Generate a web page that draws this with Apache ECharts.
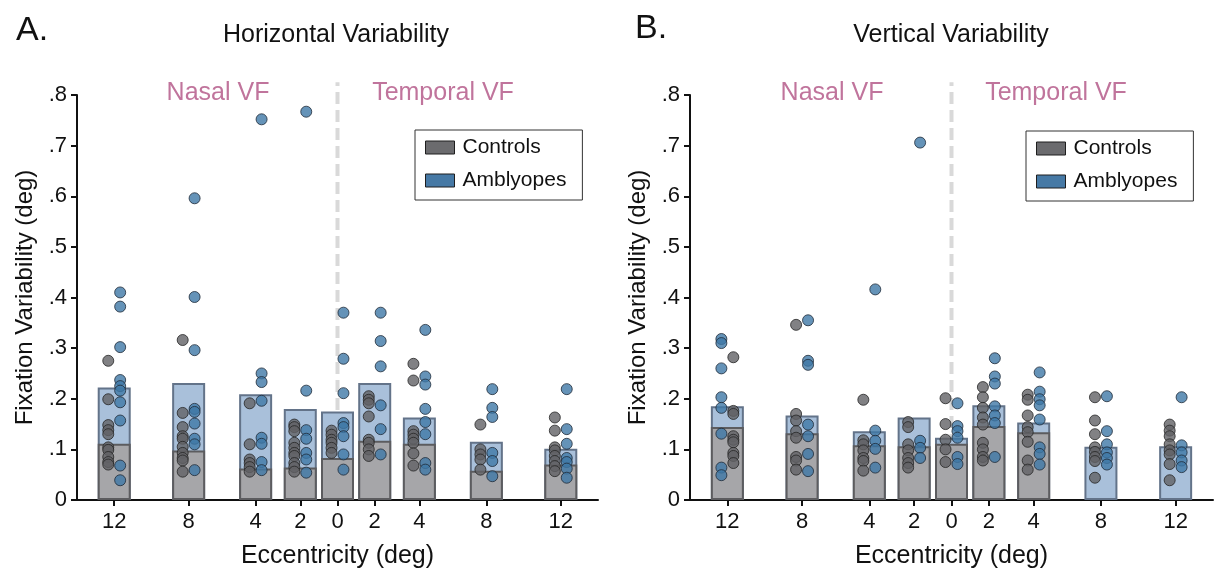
<!DOCTYPE html>
<html><head><meta charset="utf-8">
<script src="https://cdn.jsdelivr.net/npm/echarts@6/dist/echarts.min.js"></script>
<style>html,body{margin:0;padding:0;background:#fff}#c{width:1216px;height:574px}</style>
</head><body><div id="c"></div>
<script>
// ---------- data ----------
const eccLabels = ['12','8','4','2','0','2','4','8','12'];
const yTickLabels = ['0','.1','.2','.3','.4','.5','.6','.7','.8'];

// group means (bars)
const hCtrlMean = [0.111,0.098,0.062,0.064,0.083,0.117,0.111,0.058,0.070];
const hAmbMean  = [0.222,0.231,0.209,0.180,0.175,0.231,0.163,0.115,0.101];
const vCtrlMean = [0.144,0.132,0.108,0.106,0.111,0.146,0.134,null,null];
const vAmbMean  = [0.185,0.167,0.136,0.163,0.123,0.187,0.153,0.105,0.106];

// individual observers - horizontal
const hCtrlPts = [
  [0.275,0.199,0.148,0.138,0.130,0.104,0.099,0.085,0.075,0.070],
  [0.316,0.172,0.144,0.126,0.121,0.105,0.093,0.083,0.078,0.056],
  [0.191,0.110,0.080,0.073,0.065,0.056],
  [0.149,0.144,0.136,0.113,0.103,0.093,0.087,0.073,0.065,0.056],
  [0.137,0.129,0.119,0.113,0.103,0.093],
  [0.205,0.198,0.191,0.165,0.119,0.113,0.100,0.087],
  [0.269,0.236,0.136,0.129,0.121,0.113,0.092,0.068],
  [0.149,0.100,0.090,0.080,0.060],
  [0.163,0.137,0.104,0.098,0.087,0.077,0.067,0.057]
];
const hAmbPts = [
  [0.410,0.382,0.302,0.237,0.225,0.216,0.193,0.157,0.068,0.039],
  [0.596,0.401,0.296,0.180,0.174,0.151,0.121,0.110,0.059],
  [0.752,0.250,0.233,0.196,0.123,0.111,0.075,0.059],
  [0.767,0.216,0.138,0.121,0.093,0.080,0.054],
  [0.370,0.279,0.211,0.152,0.144,0.126,0.090,0.060],
  [0.370,0.314,0.264,0.187,0.140,0.090],
  [0.336,0.244,0.228,0.180,0.154,0.130,0.073,0.060],
  [0.219,0.182,0.164,0.093,0.077,0.047],
  [0.219,0.140,0.111,0.083,0.075,0.062,0.044]
];
// individual observers - vertical
const vCtrlPts = [
  [0.282,0.176,0.170,0.126,0.119,0.114,0.093,0.087,0.073],
  [0.346,0.170,0.157,0.136,0.123,0.085,0.078,0.060],
  [0.198,0.118,0.110,0.098,0.083,0.077,0.058],
  [0.154,0.144,0.110,0.098,0.083,0.073,0.064],
  [0.201,0.150,0.119,0.100,0.075],
  [0.223,0.203,0.182,0.163,0.149,0.113,0.100,0.085,0.078],
  [0.208,0.198,0.167,0.144,0.134,0.115,0.078,0.060],
  [0.203,0.157,0.130,0.104,0.095,0.085,0.077,0.044],
  [0.149,0.137,0.126,0.110,0.098,0.090,0.071,0.039]
];
const vAmbPts = [
  [0.318,0.310,0.260,0.203,0.182,0.131,0.064,0.049],
  [0.355,0.275,0.267,0.149,0.126,0.091,0.057],
  [0.416,0.137,0.117,0.101,0.064],
  [0.706,0.117,0.103,0.083],
  [0.191,0.146,0.136,0.123,0.085,0.071],
  [0.280,0.244,0.230,0.185,0.167,0.152,0.085],
  [0.252,0.214,0.199,0.187,0.159,0.104,0.091,0.070],
  [0.205,0.136,0.110,0.094,0.083,0.070],
  [0.203,0.108,0.094,0.078,0.065]
];

// ---------- layout / style ----------
const slotPos = [-6,-4,-2.2,-1,0,1,2.2,4,6];   // axis positions of the eccentricity slots
const dotOff = 0.16;
const swapSides = [[0,0,0,0,0,0,0,0,0],[1,0,0,0,0,0,0,0,0]];
const FONT = 'Liberation Sans, Arial, Helvetica, sans-serif';
const INK = '#111';
const PINK = '#c0749c';

function labelFor(v){
  for (let i=0;i<slotPos.length;i++) if (Math.abs(slotPos[i]-v)<1e-6) return eccLabels[i];
  return '';
}

function xAxisCfg(g){
  return {
    type:'value', gridIndex:g, min:-7, max:7,
    axisLine:{show:true, onZero:false, lineStyle:{color:INK, width:2}},
    axisTick:{show:true, customValues:slotPos, length:6, lineStyle:{color:INK, width:2}},
    axisLabel:{customValues:slotPos, formatter:labelFor, fontSize:22, color:INK, margin:11, fontFamily:FONT},
    splitLine:{show:false},
    name:'Eccentricity (deg)', nameLocation:'middle', nameGap:44,
    nameTextStyle:{fontSize:25, color:INK, fontFamily:FONT}
  };
}
function yAxisCfg(g){
  return {
    type:'value', gridIndex:g, min:0, max:0.8, interval:0.1,
    axisLine:{show:true, onZero:false, lineStyle:{color:INK, width:2}},
    axisTick:{show:true, length:6, lineStyle:{color:INK, width:2}},
    axisLabel:{formatter:v=>yTickLabels[Math.round(v*10)], fontSize:22, color:INK, margin:10, fontFamily:FONT},
    splitLine:{show:false},
    name:'Fixation Variability (deg)', nameLocation:'middle', nameGap:40,
    nameTextStyle:{fontSize:24, color:INK, fontFamily:FONT}
  };
}

function panelSeries(g, ctrlMean, ambMean, ctrlPts, ambPts){
  const sw = swapSides[g];
  const ctrlDots = [], ambDots = [];
  ctrlPts.forEach((arr,i)=>{ const s = sw[i] ? 1 : -1; arr.forEach(v=>ctrlDots.push([slotPos[i]+s*dotOff, v])); });
  ambPts.forEach((arr,i)=>{ const s = sw[i] ? -1 : 1; arr.forEach(v=>ambDots.push([slotPos[i]+s*dotOff, v])); });
  return [
    { type:'line', xAxisIndex:g, yAxisIndex:g, data:[[0,0],[0,0.825]], symbol:'none', clip:false, silent:true, z:1,
      lineStyle:{color:'#d9d9d9', width:4, type:[12,6]} },
    { name:'Amblyopes', type:'bar', xAxisIndex:g, yAxisIndex:g, barWidth:33, barGap:'-100%', z:2, silent:true,
      data: slotPos.map((x,i)=>[x, ambMean[i]]),
      itemStyle:{color:'#a9c0da', borderColor:'#637389', borderWidth:2} },
    { name:'Controls', type:'bar', xAxisIndex:g, yAxisIndex:g, barWidth:33, barGap:'-100%', z:2, silent:true,
      data: slotPos.map((x,i)=>[x, ctrlMean[i]]),
      itemStyle:{color:'#a6a6a9', borderColor:'#5c5c5f', borderWidth:2} },
    { name:'Controls', type:'scatter', xAxisIndex:g, yAxisIndex:g, data:ctrlDots, symbolSize:11, z:3, silent:true,
      itemStyle:{color:'#616265', borderColor:'#262626', borderWidth:1} },
    { name:'Amblyopes', type:'scatter', xAxisIndex:g, yAxisIndex:g, data:ambDots, symbolSize:11, z:3, silent:true,
      itemStyle:{color:'#3e78a6', borderColor:'#1f2b38', borderWidth:1} }
  ];
}

const legendData = [
  {name:'Controls', icon:'rect', itemStyle:{color:'#6b6b6e', borderColor:'#1e1e1e', borderWidth:1}},
  {name:'Amblyopes', icon:'rect', itemStyle:{color:'#4679a5', borderColor:'#1e1e1e', borderWidth:1}}
];
function legendCfg(left, top){
  return {
    left, top, orient:'vertical', data:legendData, selectedMode:false,
    itemWidth:29, itemHeight:13, itemGap:12, padding:[7,16,9,10],
    borderColor:'#333', borderWidth:1, backgroundColor:'#fff',
    textStyle:{fontSize:21, color:INK, fontFamily:FONT, padding:[0,0,0,3]}
  };
}

function txt(x, y, text, size, color, align){
  return { type:'text', x, y, silent:true,
    style:{ text, fontSize:size, fill:color, fontFamily:FONT, textAlign:align||'center', textVerticalAlign:'middle' } };
}

const option = {
  animation:false,
  backgroundColor:'#fff',
  grid:[
    {left:77, width:521, top:95, height:407},
    {left:690, width:523, top:95, height:407}
  ],
  xAxis:[xAxisCfg(0), xAxisCfg(1)],
  yAxis:[yAxisCfg(0), yAxisCfg(1)],
  legend:[legendCfg(415,130), legendCfg(1026,131)],
  series:[
    ...panelSeries(0, hCtrlMean, hAmbMean, hCtrlPts, hAmbPts),
    ...panelSeries(1, vCtrlMean, vAmbMean, vCtrlPts, vAmbPts)
  ],
  graphic:[
    txt(16, 31, 'A.', 34, INK, 'left'),
    txt(336, 35, 'Horizontal Variability', 25, INK),
    txt(635, 29, 'B.', 34, INK, 'left'),
    txt(951, 35, 'Vertical Variability', 25, INK),
    txt(218, 93, 'Nasal VF', 25, PINK),
    txt(443, 93, 'Temporal VF', 25, PINK),
    txt(832, 93, 'Nasal VF', 25, PINK),
    txt(1056, 93, 'Temporal VF', 25, PINK)
  ]
};

const chart = echarts.init(document.getElementById('c'), null, {renderer:'canvas'});
chart.setOption(option);
</script>
</body></html>
